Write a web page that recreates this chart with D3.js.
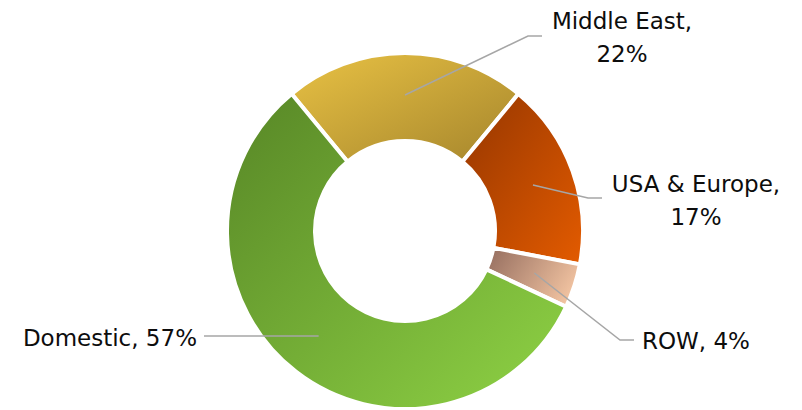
<!DOCTYPE html>
<html>
<head>
<meta charset="utf-8">
<script src="https://cdn.jsdelivr.net/npm/d3@7"></script>
<style>
  html, body { margin: 0; padding: 0; background: #fff; }
  svg { display: block; }
  text { font-family: "DejaVu Sans", Tahoma, sans-serif; font-size: 23px; fill: #0d0d0d; }
</style>
</head>
<body>
<svg id="chart" width="802" height="410"></svg>
<script>
// Data
const categories = ["Middle East", "USA & Europe", "ROW", "Domestic"];
const shares = [22, 17, 4, 57];
const labelLines = [["Middle East,", "22%"], ["USA & Europe,", "17%"], ["ROW, 4%"], ["Domestic, 57%"]];

// Layout (not data)
const cx = 405, cy = 231, rOuter = 178, rInner = 90;
const gradColors = [
  ["#e9c244", "#a5852c"],
  ["#953600", "#e35b00"],
  ["#9c7464", "#f6c7a4"],
  ["#578626", "#8fd345"]
];
// label layout: elbow point (null = horizontal line), line end, text position
const labelLayout = [
  { elbow: [528, 36], end: [542, 36], tx: 622, ty: 29, anchor: "middle" },
  { elbow: [588, 198], end: [602, 198], tx: 696, ty: 192, anchor: "middle" },
  { elbow: [620, 340], end: [634, 340], tx: 642, ty: 349, anchor: "start" },
  { elbow: null, end: [204, 336], tx: 197, ty: 346, anchor: "end" }
];

const svg = d3.select("#chart");
const defs = svg.append("defs");
gradColors.forEach((c, i) => {
  const g = defs.append("linearGradient")
    .attr("id", "g" + i)
    .attr("x1", "0%").attr("y1", "0%").attr("x2", "100%").attr("y2", "100%");
  g.append("stop").attr("offset", "0%").attr("stop-color", c[0]);
  g.append("stop").attr("offset", "100%").attr("stop-color", c[1]);
});
defs.select("#g2").attr("x1", "0%").attr("y1", "30%").attr("x2", "100%").attr("y2", "70%");

const startA = -shares[0] / 100 * Math.PI;
const pie = d3.pie().sort(null).value(d => d)
  .startAngle(startA).endAngle(startA + 2 * Math.PI);
const arcs = pie(shares);

const arc = d3.arc().innerRadius(rInner).outerRadius(rOuter);
const midArc = d3.arc().innerRadius(136).outerRadius(136);

const g = svg.append("g").attr("transform", `translate(${cx},${cy})`);
g.selectAll("path.slice").data(arcs).enter().append("path")
  .attr("class", "slice")
  .attr("d", arc)
  .attr("fill", (d, i) => `url(#g${i})`)
  .attr("stroke", "#fff")
  .attr("stroke-width", 4)
  .attr("stroke-linejoin", "miter");

// leader lines
arcs.forEach((d, i) => {
  const c = midArc.centroid(d);
  const L = labelLayout[i];
  let pts;
  if (L.elbow) {
    pts = [[cx + c[0], cy + c[1]], L.elbow, L.end];
  } else {
    pts = [[cx + c[0] - 3, L.end[1]], L.end];
  }
  svg.append("polyline")
    .attr("points", pts.map(p => p.join(",")).join(" "))
    .attr("fill", "none")
    .attr("stroke", "#a6a6a6")
    .attr("stroke-width", 1.5);
});

// labels
labelLines.forEach((lines, i) => {
  const L = labelLayout[i];
  const t = svg.append("text").attr("text-anchor", L.anchor);
  lines.forEach((s, j) => {
    t.append("tspan").attr("x", L.tx).attr("y", L.ty + j * 33).text(s);
  });
});
</script>
</body>
</html>
